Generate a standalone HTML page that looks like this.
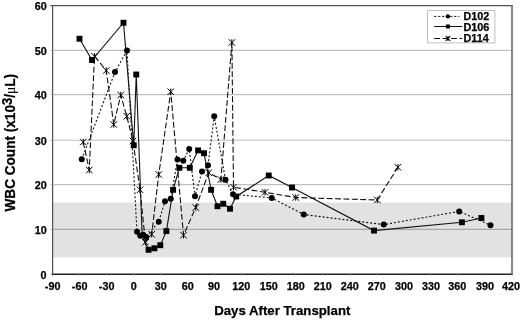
<!DOCTYPE html>
<html><head><meta charset="utf-8"><title>WBC Count</title>
<style>
html,body{margin:0;padding:0;background:#fff;}
body{width:520px;height:320px;overflow:hidden;position:relative;font-family:"Liberation Sans",sans-serif;}
svg{position:absolute;left:0;top:0;display:block;filter:grayscale(1);}
text{font-family:"Liberation Sans",sans-serif;font-weight:bold;fill:#000;stroke:#000;stroke-width:0.25px;}
</style></head><body>
<svg width="520" height="320" viewBox="0 0 520 320">
<rect width="520" height="320" fill="#fff"/>
<rect x="52.6" y="202.5" width="459.4" height="54.90" fill="#e2e2e2"/>
<line x1="52.6" x2="512" y1="229.4" y2="229.4" stroke="#000" stroke-opacity="0.25" stroke-width="1.15"/>
<line x1="52.6" x2="512" y1="184.65" y2="184.65" stroke="#000" stroke-opacity="0.25" stroke-width="1.15"/>
<line x1="52.6" x2="512" y1="140.2" y2="140.2" stroke="#000" stroke-opacity="0.25" stroke-width="1.15"/>
<line x1="52.6" x2="512" y1="94.55" y2="94.55" stroke="#000" stroke-opacity="0.25" stroke-width="1.15"/>
<line x1="52.6" x2="512" y1="50.4" y2="50.4" stroke="#000" stroke-opacity="0.25" stroke-width="1.15"/>
<line x1="50.3" x2="512.8" y1="5.6" y2="5.6" stroke="#525252" stroke-width="1.2"/>
<line x1="51.6" x2="512.8" y1="274.2" y2="274.2" stroke="#222" stroke-width="1.35"/>
<line x1="52.6" x2="52.6" y1="5" y2="275.6" stroke="#505050" stroke-width="1.2"/>
<line x1="512" x2="512" y1="5" y2="274.7" stroke="#6a6a6a" stroke-width="1.6"/>
<line x1="50.6" x2="52.6" y1="229.4" y2="229.4" stroke="#b0b0b0" stroke-width="1"/>
<line x1="50.6" x2="52.6" y1="184.65" y2="184.65" stroke="#b0b0b0" stroke-width="1"/>
<line x1="50.6" x2="52.6" y1="140.2" y2="140.2" stroke="#b0b0b0" stroke-width="1"/>
<line x1="50.6" x2="52.6" y1="94.55" y2="94.55" stroke="#b0b0b0" stroke-width="1"/>
<line x1="50.6" x2="52.6" y1="50.4" y2="50.4" stroke="#b0b0b0" stroke-width="1"/>
<line x1="79.62" x2="79.62" y1="274.5" y2="276.2" stroke="#c4c4c4" stroke-width="1"/>
<line x1="106.65" x2="106.65" y1="274.5" y2="276.2" stroke="#c4c4c4" stroke-width="1"/>
<line x1="133.67" x2="133.67" y1="274.5" y2="276.2" stroke="#c4c4c4" stroke-width="1"/>
<line x1="160.69" x2="160.69" y1="274.5" y2="276.2" stroke="#c4c4c4" stroke-width="1"/>
<line x1="187.72" x2="187.72" y1="274.5" y2="276.2" stroke="#c4c4c4" stroke-width="1"/>
<line x1="214.74" x2="214.74" y1="274.5" y2="276.2" stroke="#c4c4c4" stroke-width="1"/>
<line x1="241.76" x2="241.76" y1="274.5" y2="276.2" stroke="#c4c4c4" stroke-width="1"/>
<line x1="268.79" x2="268.79" y1="274.5" y2="276.2" stroke="#c4c4c4" stroke-width="1"/>
<line x1="295.81" x2="295.81" y1="274.5" y2="276.2" stroke="#c4c4c4" stroke-width="1"/>
<line x1="322.84" x2="322.84" y1="274.5" y2="276.2" stroke="#c4c4c4" stroke-width="1"/>
<line x1="349.86" x2="349.86" y1="274.5" y2="276.2" stroke="#c4c4c4" stroke-width="1"/>
<line x1="376.88" x2="376.88" y1="274.5" y2="276.2" stroke="#c4c4c4" stroke-width="1"/>
<line x1="403.91" x2="403.91" y1="274.5" y2="276.2" stroke="#c4c4c4" stroke-width="1"/>
<line x1="430.93" x2="430.93" y1="274.5" y2="276.2" stroke="#c4c4c4" stroke-width="1"/>
<line x1="457.95" x2="457.95" y1="274.5" y2="276.2" stroke="#c4c4c4" stroke-width="1"/>
<line x1="484.98" x2="484.98" y1="274.5" y2="276.2" stroke="#c4c4c4" stroke-width="1"/>
<text x="46.4" y="278.90" font-size="10.8" text-anchor="end">0</text>
<text x="46.8" y="233.75" font-size="10.8" text-anchor="end">10</text>
<text x="46.8" y="189.00" font-size="10.8" text-anchor="end">20</text>
<text x="46.8" y="144.55" font-size="10.8" text-anchor="end">30</text>
<text x="46.8" y="98.90" font-size="10.8" text-anchor="end">40</text>
<text x="46.8" y="54.75" font-size="10.8" text-anchor="end">50</text>
<text x="46.8" y="9.85" font-size="10.8" text-anchor="end">60</text>
<text x="52.60" y="289.7" font-size="10.8" text-anchor="middle">-90</text>
<text x="79.62" y="289.7" font-size="10.8" text-anchor="middle">-60</text>
<text x="106.65" y="289.7" font-size="10.8" text-anchor="middle">-30</text>
<text x="133.67" y="289.7" font-size="10.8" text-anchor="middle">0</text>
<text x="160.69" y="289.7" font-size="10.8" text-anchor="middle">30</text>
<text x="187.72" y="289.7" font-size="10.8" text-anchor="middle">60</text>
<text x="214.04" y="289.7" font-size="10.8" text-anchor="middle">90</text>
<text x="241.36" y="289.7" font-size="10.8" text-anchor="middle">120</text>
<text x="268.79" y="289.7" font-size="10.8" text-anchor="middle">150</text>
<text x="295.81" y="289.7" font-size="10.8" text-anchor="middle">180</text>
<text x="322.84" y="289.7" font-size="10.8" text-anchor="middle">210</text>
<text x="349.86" y="289.7" font-size="10.8" text-anchor="middle">240</text>
<text x="376.88" y="289.7" font-size="10.8" text-anchor="middle">270</text>
<text x="403.91" y="289.7" font-size="10.8" text-anchor="middle">300</text>
<text x="430.93" y="289.7" font-size="10.8" text-anchor="middle">330</text>
<text x="457.35" y="289.7" font-size="10.8" text-anchor="middle">360</text>
<text x="484.98" y="289.7" font-size="10.8" text-anchor="middle">390</text>
<text x="511.00" y="289.7" font-size="10.8" text-anchor="middle">420</text>
<text x="282.3" y="314.9" font-size="13.22" text-anchor="middle">Days After Transplant</text>
<text transform="translate(15.2,142.7) rotate(-90) scale(1,1.09)" font-size="13.6" text-anchor="middle">WBC Count (x10<tspan dy="-3.3" font-size="13">3</tspan><tspan dy="3.3">/</tspan><tspan font-family="'Liberation Serif',serif" font-weight="normal" font-size="13.5" stroke-width="0">μ</tspan>L)</text>
<polyline points="81.75,159.25 115.00,72.00 127.00,50.50 137.00,231.80 140.30,235.80 143.10,234.70 146.25,236.90 158.75,221.70 165.00,201.25 170.75,198.75 177.50,159.50 183.30,160.80 189.20,149.00 195.00,196.25 202.00,171.60 208.00,165.30 214.20,116.25 225.50,179.80 233.00,194.25 271.75,198.00 303.75,214.50 383.75,224.60 459.20,211.40 490.50,225.20" fill="none" stroke="#111" stroke-width="1.1" stroke-dasharray="2 2"/>
<polyline points="83.25,142.00 89.25,170.00 94.50,56.25 106.25,70.50 113.75,124.50 120.75,95.00 126.75,116.25 133.00,141.00 140.00,189.75 145.40,242.20 151.70,234.30 158.75,174.50 170.75,91.75 183.50,235.20 195.75,207.50 208.75,172.70 220.90,179.50 231.90,42.50 233.50,187.20 265.00,192.30 295.75,197.50 377.25,200.00 397.90,167.25" fill="none" stroke="#111" stroke-width="1.1" stroke-dasharray="5.9 2.5"/>
<polyline points="79.50,38.75 92.00,60.00 123.50,22.75 133.75,145.30 136.25,74.50 142.20,236.50 148.60,249.80 154.40,248.30 160.30,245.20 166.40,231.10 173.10,189.80 179.40,167.80 189.80,167.80 198.10,150.40 204.00,153.20 211.10,189.80 217.50,206.25 223.25,203.75 230.00,208.75 236.25,196.50 268.75,175.50 292.00,187.50 374.00,230.60 461.90,222.30 481.40,218.00" fill="none" stroke="#111" stroke-width="1.1"/>
<g fill="#000"><circle cx="81.75" cy="159.25" r="3.0"/><circle cx="115.00" cy="72.00" r="3.0"/><circle cx="127.00" cy="50.50" r="3.0"/><circle cx="137.00" cy="231.80" r="3.0"/><circle cx="140.30" cy="235.80" r="3.0"/><circle cx="143.10" cy="234.70" r="3.0"/><circle cx="146.25" cy="236.90" r="3.0"/><circle cx="158.75" cy="221.70" r="3.0"/><circle cx="165.00" cy="201.25" r="3.0"/><circle cx="170.75" cy="198.75" r="3.0"/><circle cx="177.50" cy="159.50" r="3.0"/><circle cx="183.30" cy="160.80" r="3.0"/><circle cx="189.20" cy="149.00" r="3.0"/><circle cx="195.00" cy="196.25" r="3.0"/><circle cx="202.00" cy="171.60" r="3.0"/><circle cx="208.00" cy="165.30" r="3.0"/><circle cx="214.20" cy="116.25" r="3.0"/><circle cx="225.50" cy="179.80" r="3.0"/><circle cx="233.00" cy="194.25" r="3.0"/><circle cx="271.75" cy="198.00" r="3.0"/><circle cx="303.75" cy="214.50" r="3.0"/><circle cx="383.75" cy="224.60" r="3.0"/><circle cx="459.20" cy="211.40" r="3.0"/><circle cx="490.50" cy="225.20" r="3.0"/></g>
<g fill="#000"><rect x="76.55" y="35.80" width="5.9" height="5.9"/><rect x="89.05" y="57.05" width="5.9" height="5.9"/><rect x="120.55" y="19.80" width="5.9" height="5.9"/><rect x="130.80" y="142.35" width="5.9" height="5.9"/><rect x="133.30" y="71.55" width="5.9" height="5.9"/><rect x="145.65" y="246.85" width="5.9" height="5.9"/><rect x="151.45" y="245.35" width="5.9" height="5.9"/><rect x="157.35" y="242.25" width="5.9" height="5.9"/><rect x="163.45" y="228.15" width="5.9" height="5.9"/><rect x="170.15" y="186.85" width="5.9" height="5.9"/><rect x="176.45" y="164.85" width="5.9" height="5.9"/><rect x="186.85" y="164.85" width="5.9" height="5.9"/><rect x="195.15" y="147.45" width="5.9" height="5.9"/><rect x="201.05" y="150.25" width="5.9" height="5.9"/><rect x="208.15" y="186.85" width="5.9" height="5.9"/><rect x="214.55" y="203.30" width="5.9" height="5.9"/><rect x="220.30" y="200.80" width="5.9" height="5.9"/><rect x="227.05" y="205.80" width="5.9" height="5.9"/><rect x="233.30" y="193.55" width="5.9" height="5.9"/><rect x="265.80" y="172.55" width="5.9" height="5.9"/><rect x="289.05" y="184.55" width="5.9" height="5.9"/><rect x="371.05" y="227.65" width="5.9" height="5.9"/><rect x="458.95" y="219.35" width="5.9" height="5.9"/><rect x="478.45" y="215.05" width="5.9" height="5.9"/></g>
<g fill="none" stroke="#000"><path d="M80.00 138.75L86.50 145.25M86.50 138.75L80.00 145.25M83.25 138.75L83.25 145.25" stroke-width="1.0"/><path d="M86.00 166.75L92.50 173.25M92.50 166.75L86.00 173.25M89.25 166.75L89.25 173.25" stroke-width="1.0"/><path d="M91.25 53.00L97.75 59.50M97.75 53.00L91.25 59.50M94.50 53.00L94.50 59.50" stroke-width="1.0"/><path d="M103.00 67.25L109.50 73.75M109.50 67.25L103.00 73.75M106.25 67.25L106.25 73.75" stroke-width="1.0"/><path d="M110.50 121.25L117.00 127.75M117.00 121.25L110.50 127.75M113.75 121.25L113.75 127.75" stroke-width="1.0"/><path d="M117.50 91.75L124.00 98.25M124.00 91.75L117.50 98.25M120.75 91.75L120.75 98.25" stroke-width="1.0"/><path d="M123.50 113.00L130.00 119.50M130.00 113.00L123.50 119.50M126.75 113.00L126.75 119.50" stroke-width="1.0"/><path d="M129.75 137.75L136.25 144.25M136.25 137.75L129.75 144.25M133.00 137.75L133.00 144.25" stroke-width="1.0"/><path d="M136.75 186.50L143.25 193.00M143.25 186.50L136.75 193.00M140.00 186.50L140.00 193.00" stroke-width="1.0"/><path d="M142.15 238.95L148.65 245.45M148.65 238.95L142.15 245.45M145.40 238.95L145.40 245.45" stroke-width="1.0"/><path d="M148.45 231.05L154.95 237.55M154.95 231.05L148.45 237.55M151.70 231.05L151.70 237.55" stroke-width="1.0"/><path d="M155.50 171.25L162.00 177.75M162.00 171.25L155.50 177.75M158.75 171.25L158.75 177.75" stroke-width="1.0"/><path d="M167.50 88.50L174.00 95.00M174.00 88.50L167.50 95.00M170.75 88.50L170.75 95.00" stroke-width="1.0"/><path d="M180.25 231.95L186.75 238.45M186.75 231.95L180.25 238.45M183.50 231.95L183.50 238.45" stroke-width="1.0"/><path d="M192.50 204.25L199.00 210.75M199.00 204.25L192.50 210.75M195.75 204.25L195.75 210.75" stroke-width="1.0"/><path d="M205.50 169.45L212.00 175.95M212.00 169.45L205.50 175.95M208.75 169.45L208.75 175.95" stroke-width="1.0"/><path d="M217.65 176.25L224.15 182.75M224.15 176.25L217.65 182.75M220.90 176.25L220.90 182.75" stroke-width="1.0"/><path d="M228.65 39.25L235.15 45.75M235.15 39.25L228.65 45.75M231.90 39.25L231.90 45.75" stroke-width="1.0"/><path d="M230.25 183.95L236.75 190.45M236.75 183.95L230.25 190.45M233.50 183.95L233.50 190.45" stroke-width="1.0"/><path d="M261.75 189.05L268.25 195.55M268.25 189.05L261.75 195.55M265.00 189.05L265.00 195.55" stroke-width="1.0"/><path d="M292.50 194.25L299.00 200.75M299.00 194.25L292.50 200.75M295.75 194.25L295.75 200.75" stroke-width="1.0"/><path d="M374.00 196.75L380.50 203.25M380.50 196.75L374.00 203.25M377.25 196.75L377.25 203.25" stroke-width="1.0"/><path d="M394.65 164.00L401.15 170.50M401.15 164.00L394.65 170.50M397.90 164.00L397.90 170.50" stroke-width="1.0"/></g>
<rect x="427.6" y="10.6" width="67.3" height="32.3" fill="#fff" stroke="#b4b4b4" stroke-width="0.85"/>
<line x1="434.2" x2="459.4" y1="16.4" y2="16.4" stroke="#111" stroke-width="1" stroke-dasharray="2.2 1.8"/>
<line x1="434.2" x2="462.3" y1="26.5" y2="26.5" stroke="#111" stroke-width="1"/>
<line x1="434.2" x2="462.3" y1="38.5" y2="38.5" stroke="#111" stroke-width="1" stroke-dasharray="5.9 2.5"/>
<g fill="#000"><circle cx="447.90" cy="16.40" r="2.15"/><rect x="445.90" y="24.50" width="4.0" height="4.0"/></g>
<g fill="none" stroke="#000"><path d="M445.70 36.20L450.30 40.80M450.30 36.20L445.70 40.80M448.00 36.20L448.00 40.80" stroke-width="1.05"/></g>
<text x="463.5" y="20.2" font-size="10.8">D102</text>
<text x="463.5" y="30.9" font-size="10.8">D106</text>
<text x="463.5" y="41.8" font-size="10.8">D114</text>
</svg></body></html>
